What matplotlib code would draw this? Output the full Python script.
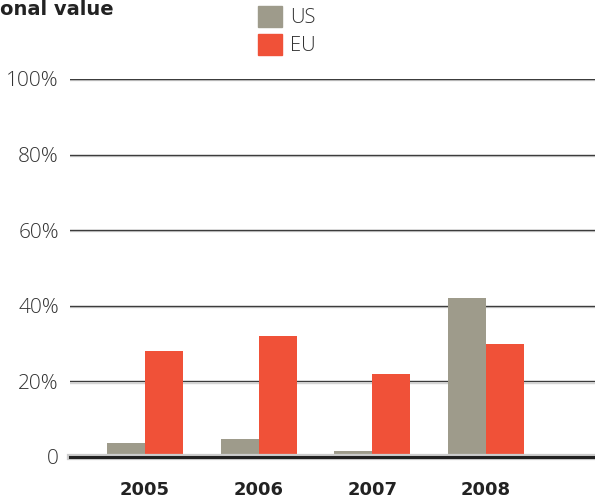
import numpy as np
import matplotlib.pyplot as plt
from matplotlib.patches import Patch

years = ['2005', '2006', '2007', '2008']
us = [3.7, 4.8, 1.6, 42.1]
eu = [28.0, 32.0, 21.9, 29.9]
yticks = [0, 20, 40, 60, 80, 100]
ytick_labels = ['0', '20%', '40%', '60%', '80%', '100%']

gray = '#9e9b8b'
red = '#f05138'

plt.rcParams['font.family'] = ['Open Sans', 'DejaVu Sans']

fig = plt.figure(figsize=(5.95, 4.99), dpi=100)
ax = fig.add_axes([70 / 595, 42 / 499, 525 / 595, 378 / 499])

x = np.arange(len(years))
w = 0.334
ax.bar(x - w / 2, us, w, color=gray, zorder=2)
ax.bar(x + w / 2, eu, w, color=red, zorder=2)

ax.set_xlim(-0.66, 3.958)
ax.set_ylim(0, 100)
for v in yticks[1:]:
    ax.axhline(v - 0.3, color='#d4d4d4', lw=1.0, zorder=1)
    ax.axhline(v, color='#3c3c3c', lw=1.0, zorder=1)
ax.axhline(-0.1, color='#cccccc', lw=4.5, zorder=3, clip_on=False)
ax.axhline(0, color='#222222', lw=2.2, zorder=3, clip_on=False)

ax.set_yticks(yticks)
ax.set_yticklabels(ytick_labels, fontsize=15, fontweight='light', color='#333333')
ax.set_xticks(x)
ax.set_xticklabels(years, fontsize=13, fontweight='bold', color='#222222',
                   family='DejaVu Sans')
ax.tick_params(axis='y', length=0, pad=8)
ax.tick_params(axis='x', length=0, pad=17)
for s in ax.spines.values():
    s.set_visible(False)

fig.text(0, 1 - 15 / 499, 'onal value', fontsize=14, fontweight='bold',
         color='#222222', ha='left', va='baseline', family='DejaVu Sans')

handles = [Patch(color=gray, label='US'), Patch(color=red, label='EU')]
fig.legend(handles=handles, loc='upper left', bbox_to_anchor=(258 / 595, 1 - 6 / 499),
           frameon=False, borderpad=0, borderaxespad=0, handlelength=1.2,
           handleheight=1.2, handletextpad=0.4, labelspacing=0.3,
           labelcolor='#333333', prop={'weight': 'light', 'size': 14.5})

fig.savefig('out.png', dpi=100)
